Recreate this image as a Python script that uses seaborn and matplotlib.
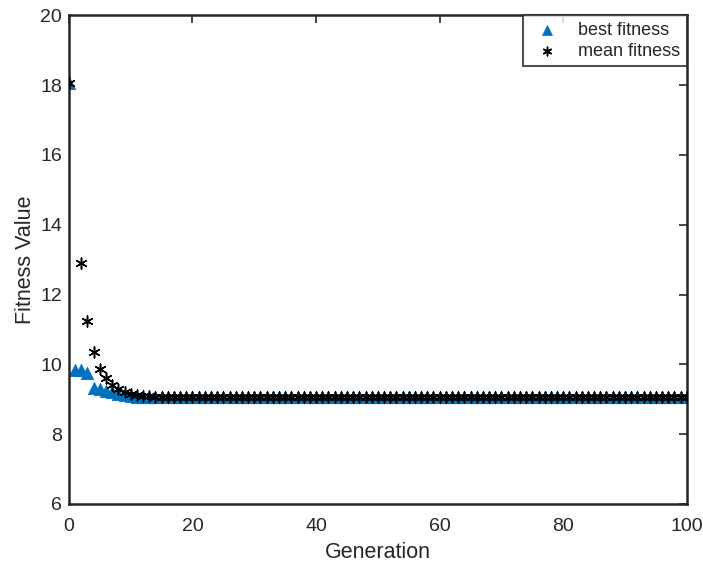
import numpy as np
import pandas as pd
import matplotlib
matplotlib.use("Agg")
import matplotlib.pyplot as plt
import seaborn as sns

generations = list(range(0, 101))
best_early = [18.05, 9.85, 9.85, 9.75, 9.32, 9.30, 9.25, 9.20, 9.15, 9.11, 9.09]
mean_early = [18.05, np.nan, 12.90, 11.25, 10.35, 9.88, 9.60, 9.40, 9.28, 9.20, 9.15, 9.12, 9.10, 9.09]
flat_value = 9.07
best_fitness = best_early + [flat_value] * (len(generations) - len(best_early))
mean_fitness = mean_early + [flat_value] * (len(generations) - len(mean_early))

df = pd.DataFrame({"Generation": generations, "best": best_fitness, "mean": mean_fitness})

sns.set_style("white")
plt.rcParams['font.family'] = ['Liberation Sans', 'DejaVu Sans']

fig = plt.figure(figsize=(7.03, 5.65), dpi=100)
ax = fig.add_axes([0.098, 0.108, 0.879, 0.865])

sns.scatterplot(data=df, x="Generation", y="best", ax=ax, marker="^", s=80,
                color="#0072BD", edgecolor="#0072BD", linewidth=0.5, label="best fitness", zorder=2)
sns.scatterplot(data=df.dropna(), x="Generation", y="mean", ax=ax, marker=(6, 2, 0), s=60,
                color="black", edgecolor="black", linewidth=1.1, label="mean fitness", zorder=3)

ax.set_xlim(0, 100)
ax.set_ylim(6, 20)
ax.set_xticks([0, 20, 40, 60, 80, 100])
ax.set_yticks([6, 8, 10, 12, 14, 16, 18, 20])
ax.set_xlabel("Generation", fontsize=15.5, color="#262626", labelpad=5)
ax.set_ylabel("Fitness Value", fontsize=15.5, color="#262626", labelpad=3)
ax.tick_params(direction="in", length=6, width=1.2, top=True, right=True,
               labelsize=14, labelcolor="#262626", color="#262626")
ax.tick_params(axis="x", pad=10)
ax.tick_params(axis="y", pad=5)
for sp in ax.spines.values():
    sp.set_visible(True)
    sp.set_linewidth(1.8)
    sp.set_color("#262626")

leg = ax.legend(loc="upper right", fontsize=13, frameon=True, fancybox=False,
                borderaxespad=0.0, handletextpad=0.8, borderpad=0.35, labelspacing=0.25,
                handlelength=1.9, markerscale=0.8)
leg.get_frame().set_edgecolor("#262626")
leg.get_frame().set_linewidth(1.5)

fig.savefig("out.png", dpi=100)
